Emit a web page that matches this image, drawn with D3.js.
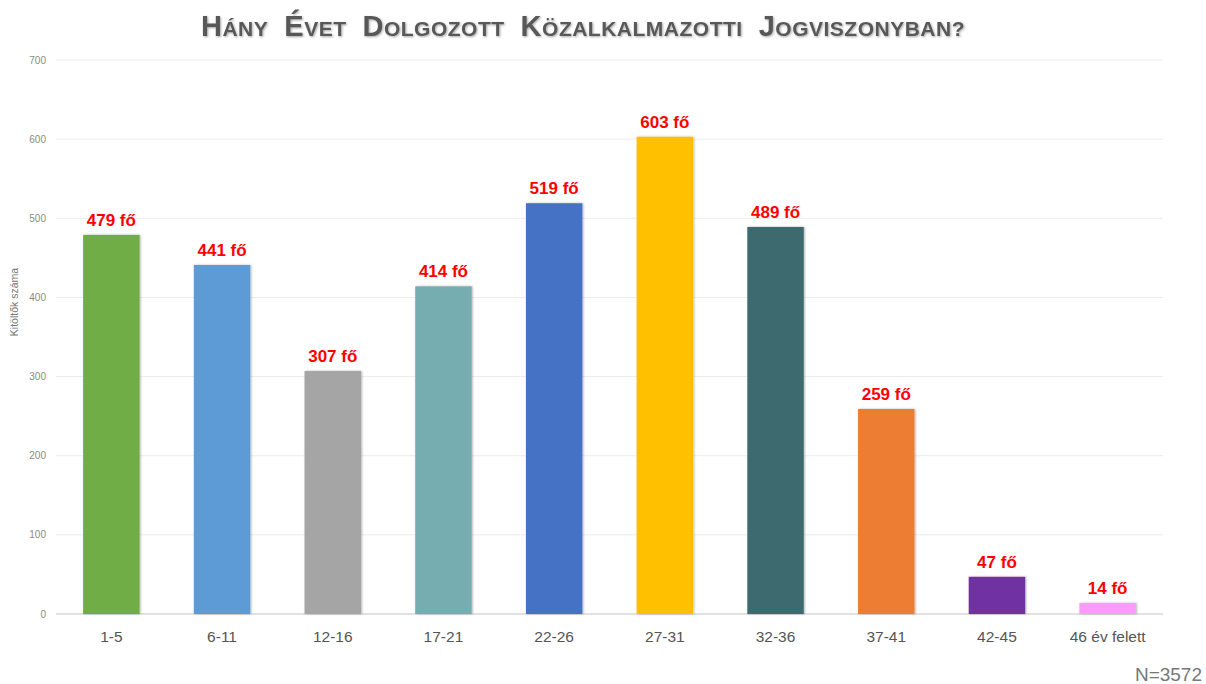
<!DOCTYPE html>
<html>
<head>
<meta charset="utf-8">
<script src="https://cdn.jsdelivr.net/npm/d3@7"></script>
<style>
  body { margin: 0; background: #fff; }
  svg { font-family: "Liberation Sans", Arial, sans-serif; }
</style>
</head>
<body>
<script>
var width = 1206,
    height = 684;

var categories = ["1-5", "6-11", "12-16", "17-21", "22-26", "27-31", "32-36", "37-41", "42-45", "46 év felett"];
var values = [479, 441, 307, 414, 519, 603, 489, 259, 47, 14];
var colors = ["#70ad47", "#5b9bd5", "#a5a5a5", "#75adb0", "#4472c4", "#ffc000", "#3d6b6e", "#ed7d31", "#7030a0", "#ff99ff"];
var yTicks = [0, 100, 200, 300, 400, 500, 600, 700];

var margin = {top: 60, right: 43, bottom: 70, left: 56};

var svg = d3.select("body").append("svg")
    .attr("width", width)
    .attr("height", height);

var defs = svg.append("defs");
var shadow = defs.append("filter").attr("id", "shadow")
    .attr("x", "-10%").attr("y", "-10%").attr("width", "130%").attr("height", "120%");
shadow.append("feDropShadow")
    .attr("dx", 1).attr("dy", 0).attr("stdDeviation", 1.2)
    .attr("flood-color", "#000").attr("flood-opacity", 0.3);

var tshadow = defs.append("filter").attr("id", "tshadow");
tshadow.append("feDropShadow")
    .attr("dx", 1).attr("dy", 1).attr("stdDeviation", 0.8)
    .attr("flood-color", "#000").attr("flood-opacity", 0.35);

var x = d3.scaleBand()
    .domain(categories)
    .range([margin.left, width - margin.right])
    .paddingInner(0.49)
    .paddingOuter(0.245);

var y = d3.scaleLinear()
    .domain([0, 700])
    .range([height - margin.bottom, margin.top]);

// gridlines
svg.append("g")
  .selectAll("line")
  .data(yTicks)
  .join("line")
    .attr("x1", margin.left)
    .attr("x2", width - margin.right)
    .attr("y1", function(d) { return y(d); })
    .attr("y2", function(d) { return y(d); })
    .attr("stroke", function(d) { return d === 0 ? "#d9d9d9" : "#ececec"; })
    .attr("stroke-width", function(d) { return d === 0 ? 1.5 : 1; });

// y tick labels
svg.append("g")
  .selectAll("text")
  .data(yTicks)
  .join("text")
    .attr("x", margin.left - 10)
    .attr("y", function(d) { return y(d); })
    .attr("dy", "0.35em")
    .attr("text-anchor", "end")
    .attr("font-size", 10)
    .attr("fill", "#8a8a8a")
    .text(function(d) { return d; });

// y axis title
svg.append("text")
    .attr("transform", "translate(18,302) rotate(-90)")
    .attr("text-anchor", "middle")
    .attr("font-size", 10.5)
    .attr("fill", "#777")
    .text("Kitöltők száma");

// bars
svg.append("g")
  .selectAll("rect")
  .data(values)
  .join("rect")
    .attr("x", function(d, i) { return x(categories[i]); })
    .attr("y", function(d) { return y(d); })
    .attr("width", x.bandwidth())
    .attr("height", function(d) { return y(0) - y(d); })
    .attr("fill", function(d, i) { return colors[i]; })
    .attr("filter", "url(#shadow)");

// value labels
svg.append("g")
  .selectAll("text")
  .data(values)
  .join("text")
    .attr("x", function(d, i) { return x(categories[i]) + x.bandwidth() / 2; })
    .attr("y", function(d) { return y(d) - 9; })
    .attr("text-anchor", "middle")
    .attr("font-size", 17)
    .attr("font-weight", "bold")
    .attr("fill", "#ff0000")
    .text(function(d) { return d + " fő"; });

// category labels
svg.append("g")
  .selectAll("text")
  .data(categories)
  .join("text")
    .attr("x", function(d) { return x(d) + x.bandwidth() / 2; })
    .attr("y", y(0) + 28)
    .attr("text-anchor", "middle")
    .attr("font-size", 15.5)
    .attr("fill", "#555")
    .text(function(d) { return d; });

// title, small caps style
var title = svg.append("text")
    .attr("x", 583)
    .attr("y", 36)
    .attr("text-anchor", "middle")
    .attr("font-weight", "bold")
    .attr("letter-spacing", 0.5)
    .attr("fill", "#595959")
    .attr("filter", "url(#tshadow)");

var words = ["Hány", "Évet", "Dolgozott", "Közalkalmazotti", "Jogviszonyban?"];
words.forEach(function(w, i) {
  title.append("tspan")
      .attr("font-size", 29)
      .attr("dx", i === 0 ? 0 : 16)
      .text(w[0].toUpperCase());
  title.append("tspan")
      .attr("font-size", 21)
      .text(w.slice(1).toUpperCase());
});

// sample size
svg.append("text")
    .attr("x", width - 4)
    .attr("y", 681)
    .attr("text-anchor", "end")
    .attr("font-size", 19)
    .attr("fill", "#777")
    .text("N=3572");
</script>
</body>
</html>
